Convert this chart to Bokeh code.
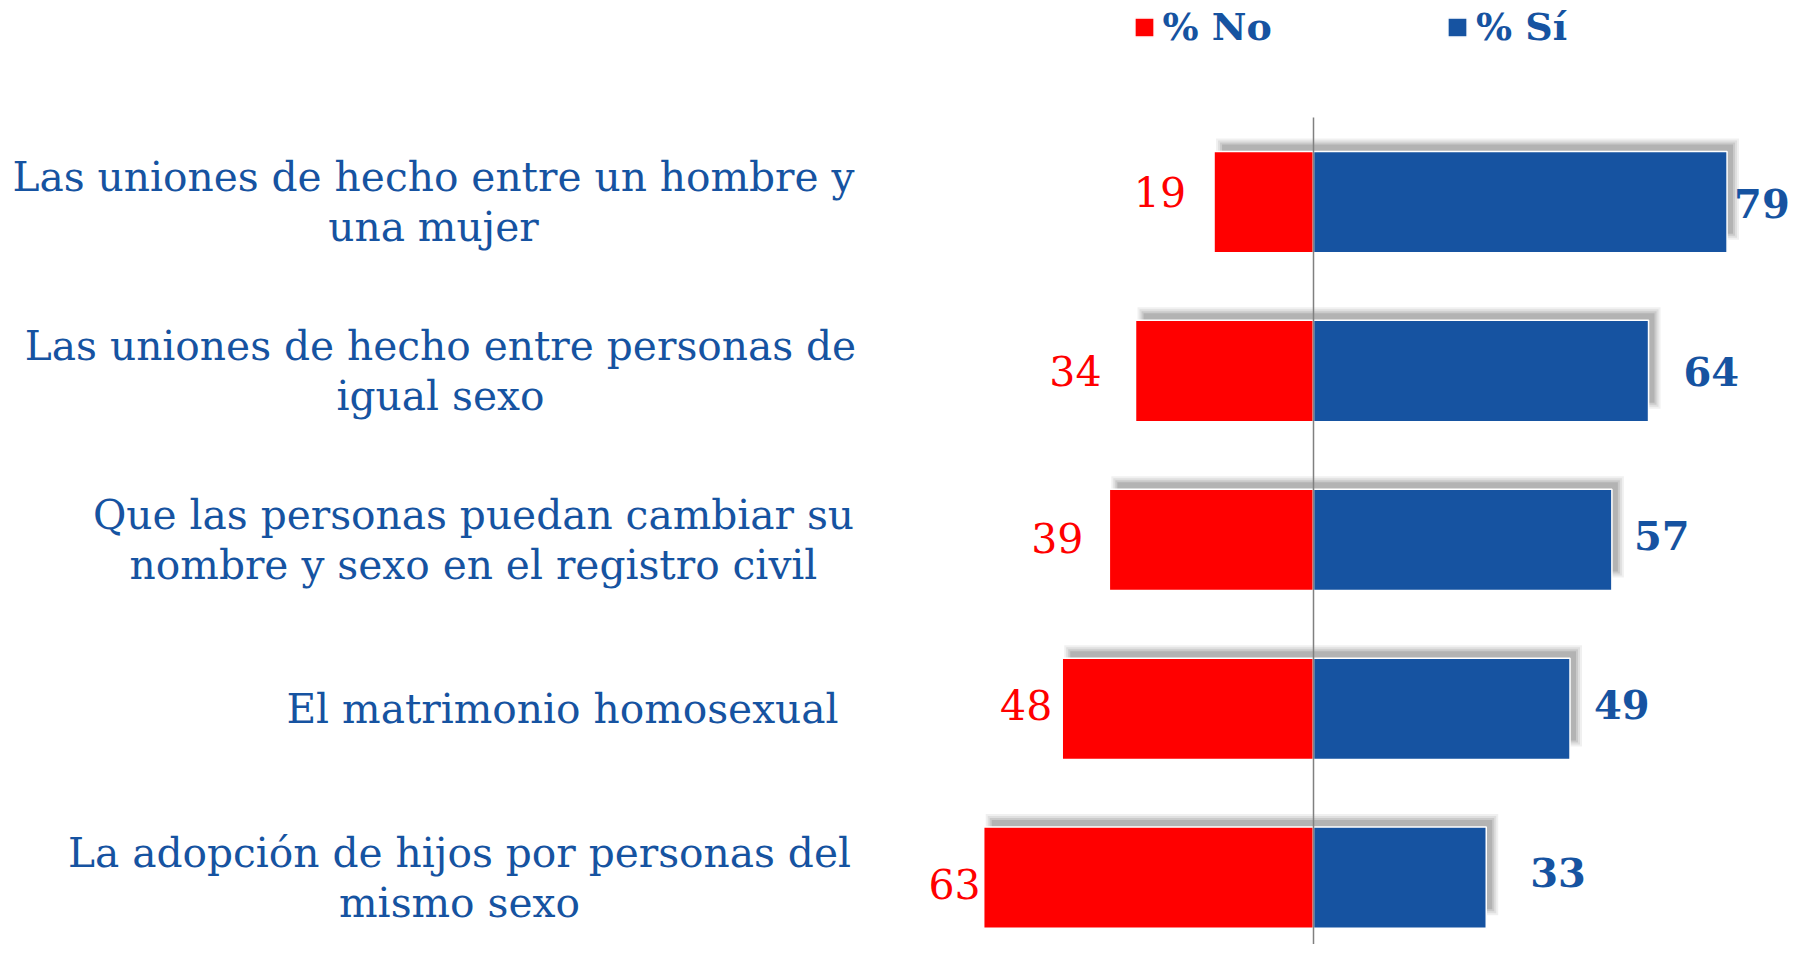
from bokeh.plotting import figure
from bokeh.models import Range1d, ColumnDataSource, Legend, LegendItem
from bokeh.core.properties import value
from bokeh.embed import file_html
from bokeh.resources import INLINE

# ---- data ----
categories = [
    "Las uniones de hecho entre un hombre y\nuna mujer",
    "Las uniones de hecho entre personas de\nigual sexo",
    "Que las personas puedan cambiar su\nnombre y sexo en el registro civil",
    "El matrimonio homosexual",
    "La adopción de hijos por personas del\nmismo sexo",
]
pct_no = [19, 34, 39, 48, 63]
pct_si = [79, 64, 57, 49, 33]
series_names = ["% No", "% Sí"]

# ---- styles / layout ----
RED = "#FF0000"
BLUE = "#1653A1"
FONT = "DejaVu Serif"
W, H = 1790, 944
CENTER_PX = 1313.0          # x of the zero line
PX_PER_UNIT = 5.235         # horizontal pixels per percentage point
ROW_PX = 168.9              # vertical pixels per category
x0 = -CENTER_PX / PX_PER_UNIT
x1 = x0 + W / PX_PER_UNIT
y_top = -201.6 / ROW_PX
y_bottom = y_top + H / ROW_PX

label_center_px = [433, 440, 473, 562, 459]
red_gap_px = [28, 34, 26, 10, 3]
blue_gap_px = [7, 35, 22, 24, 44]
red_dy_px = [-10, 0, -2, -4, 6]
blue_dy_px = [1, 0, -4, -4, -5]
BAR_H = 0.6

ypos = list(range(len(categories)))
src = ColumnDataSource(dict(
    y=ypos,
    cat=categories,
    no_left=[-v for v in pct_no],
    zero=[0] * len(ypos),
    si=pct_si,
    no_txt=[str(v) for v in pct_no],
    si_txt=[str(v) for v in pct_si],
    cat_dx=[c - CENTER_PX for c in label_center_px],
    red_dx=[-g for g in red_gap_px],
    blue_dx=blue_gap_px,
    red_dy=red_dy_px,
    blue_dy=blue_dy_px,
))

p = figure(width=W, height=H, x_range=Range1d(x0, x1),
           y_range=Range1d(y_bottom, y_top),
           output_backend="svg", toolbar_location=None, min_border=0)
p.axis.visible = False
p.grid.visible = False
p.outline_line_color = None
p.background_fill_color = "white"
p.border_fill_color = "white"

# soft shadow (up and to the right)
sdx = 5 / PX_PER_UNIT
sdy = -6 / ROW_PX
for g, a in [(7, 0.06), (5, 0.07), (3, 0.09), (1, 0.11)]:
    gx = g / PX_PER_UNIT
    gy = g / ROW_PX
    p.quad(left=[-v + sdx - gx + 4 / PX_PER_UNIT for v in pct_no],
           right=[v + sdx + gx for v in pct_si],
           top=[y - BAR_H / 2 + sdy - gy for y in ypos],
           bottom=[y + BAR_H / 2 + sdy + gy - 14 / ROW_PX for y in ypos],
           fill_color="black", fill_alpha=a, line_color=None)

r_no = p.hbar(y="y", left="no_left", right="zero", height=BAR_H, source=src,
              fill_color=RED, line_color="white", line_width=1.5)
r_si = p.hbar(y="y", left="zero", right="si", height=BAR_H, source=src,
              fill_color=BLUE, line_color="white", line_width=1.5)

p.segment(x0=[0], y0=[y_top + 117 / ROW_PX], x1=[0], y1=[y_bottom + 1],
          line_color="#808080", line_width=1.5)

p.text(x="zero", y="y", text="cat", x_offset="cat_dx", source=src,
       text_align="center", text_baseline="middle",
       text_font=value(FONT), text_font_size="40.7px", text_color=BLUE,
       text_line_height=1.05)

p.text(x="no_left", y="y", text="no_txt", x_offset="red_dx", y_offset="red_dy",
       source=src, text_align="right", text_baseline="middle",
       text_font=value(FONT), text_font_size="41px", text_color=RED)
p.text(x="si", y="y", text="si_txt", x_offset="blue_dx", y_offset="blue_dy",
       source=src, text_align="left", text_baseline="middle",
       text_font=value(FONT), text_font_size="40px", text_font_style="bold",
       text_color=BLUE)

legend = Legend(items=[LegendItem(label=series_names[0], renderers=[r_no]),
                       LegendItem(label=series_names[1], renderers=[r_si])],
                orientation="horizontal", location=(1131.5, 895),
                glyph_width=24, glyph_height=24, label_standoff=7,
                spacing=173, padding=0, margin=0,
                label_text_font=FONT, label_text_font_size="38px",
                label_text_font_style="bold", label_text_color=BLUE,
                border_line_color=None, background_fill_alpha=0)
p.add_layout(legend)

open("out.html", "w").write(file_html(p, INLINE))
